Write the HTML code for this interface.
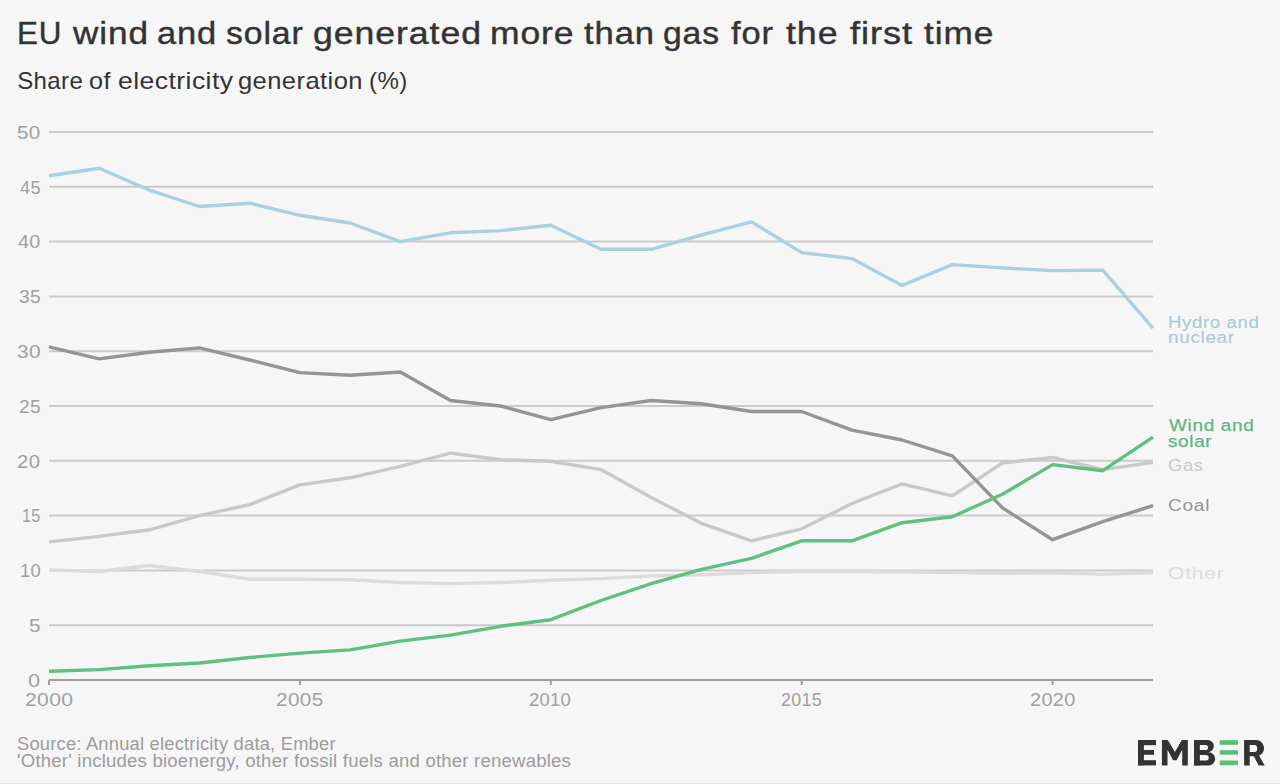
<!DOCTYPE html>
<html><head><meta charset="utf-8"><style>
html,body{margin:0;padding:0;}
body{width:1280px;height:784px;background:#f6f6f6;overflow:hidden;position:relative;font-family:"Liberation Sans",sans-serif;}
.t{position:absolute;white-space:nowrap;}
svg{position:absolute;left:0;top:0;}
</style></head><body>
<div style="position:absolute;left:0;top:783px;width:1280px;height:1px;background:#e4e4e4"></div>
<svg width="1280" height="784" viewBox="0 0 1280 784">
<g><line x1="49" x2="1153" y1="625.2" y2="625.2" stroke="#cbcbcb" stroke-width="2"/><line x1="49" x2="1153" y1="570.4" y2="570.4" stroke="#cbcbcb" stroke-width="2"/><line x1="49" x2="1153" y1="515.6" y2="515.6" stroke="#cbcbcb" stroke-width="2"/><line x1="49" x2="1153" y1="460.8" y2="460.8" stroke="#cbcbcb" stroke-width="2"/><line x1="49" x2="1153" y1="406.0" y2="406.0" stroke="#cbcbcb" stroke-width="2"/><line x1="49" x2="1153" y1="351.2" y2="351.2" stroke="#cbcbcb" stroke-width="2"/><line x1="49" x2="1153" y1="296.4" y2="296.4" stroke="#cbcbcb" stroke-width="2"/><line x1="49" x2="1153" y1="241.60000000000002" y2="241.60000000000002" stroke="#cbcbcb" stroke-width="2"/><line x1="49" x2="1153" y1="186.8" y2="186.8" stroke="#cbcbcb" stroke-width="2"/><line x1="49" x2="1153" y1="132.0" y2="132.0" stroke="#cbcbcb" stroke-width="2"/></g>
<line x1="49" x2="1153" y1="680" y2="680" stroke="#a0a0a0" stroke-width="2"/>
<line x1="49.0" x2="49.0" y1="680" y2="685" stroke="#a0a0a0" stroke-width="2"/><line x1="299.9090909090909" x2="299.9090909090909" y1="680" y2="685" stroke="#a0a0a0" stroke-width="2"/><line x1="550.8181818181818" x2="550.8181818181818" y1="680" y2="685" stroke="#a0a0a0" stroke-width="2"/><line x1="801.7272727272727" x2="801.7272727272727" y1="680" y2="685" stroke="#a0a0a0" stroke-width="2"/><line x1="1052.6363636363635" x2="1052.6363636363635" y1="680" y2="685" stroke="#a0a0a0" stroke-width="2"/>
<g fill="none" stroke-width="3.4" stroke-linejoin="round" stroke-linecap="butt">
<polyline points="49.0,569.9 99.2,571.5 149.4,565.5 199.5,571.5 249.7,579.2 299.9,579.2 350.1,579.7 400.3,582.5 450.5,583.6 500.6,582.5 550.8,580.3 601.0,578.6 651.2,575.9 701.4,574.8 751.5,572.6 801.7,571.5 851.9,571.5 902.1,572.0 952.3,572.6 1002.5,573.1 1052.6,572.6 1102.8,574.2 1153.0,572.6" stroke="#dcdcdc"/>
<polyline points="49.0,541.9 99.2,536.4 149.4,529.8 199.5,515.6 249.7,504.6 299.9,484.9 350.1,477.8 400.3,466.3 450.5,453.1 500.6,459.7 550.8,461.3 601.0,469.6 651.2,497.5 701.4,523.3 751.5,540.8 801.7,528.8 851.9,503.5 902.1,483.8 952.3,495.9 1002.5,463.0 1052.6,457.5 1102.8,469.6 1153.0,462.4" stroke="#c9c9c9"/>
<polyline points="49.0,346.8 99.2,358.9 149.4,352.3 199.5,347.9 249.7,360.0 299.9,372.6 350.1,375.3 400.3,372.0 450.5,400.5 500.6,406.0 550.8,419.7 601.0,407.6 651.2,400.5 701.4,403.8 751.5,411.5 801.7,411.5 851.9,430.1 902.1,440.0 952.3,455.9 1002.5,507.9 1052.6,539.7 1102.8,521.6 1153.0,505.7" stroke="#959595"/>
<polyline points="49.0,175.8 99.2,168.2 149.4,190.1 199.5,206.5 249.7,203.2 299.9,215.3 350.1,223.0 400.3,241.6 450.5,232.8 500.6,230.6 550.8,225.2 601.0,249.3 651.2,249.3 701.4,235.0 751.5,221.9 801.7,252.6 851.9,258.6 902.1,285.4 952.3,264.6 1002.5,267.9 1052.6,270.6 1102.8,270.1 1153.0,328.2" stroke="#a9d0e3"/>
<polyline points="49.0,671.2 99.2,669.6 149.4,665.8 199.5,663.0 249.7,657.5 299.9,653.1 350.1,649.9 400.3,641.1 450.5,635.1 500.6,626.3 550.8,619.7 601.0,600.5 651.2,583.6 701.4,569.3 751.5,558.3 801.7,540.8 851.9,540.8 902.1,522.7 952.3,516.7 1002.5,494.2 1052.6,464.6 1102.8,470.7 1153.0,437.2" stroke="#5ec084"/>
</g>
</svg>
<div class="t " style="left:17.28px;top:16.2px;font-size:31px;line-height:35.65px;color:#333;letter-spacing:0.8px;font-weight:normal;-webkit-text-stroke:0.4px #333;transform:scaleX(1.0125);transform-origin:0 0">EU</div>
<div class="t " style="left:72.7px;top:16.2px;font-size:31px;line-height:35.65px;color:#333;letter-spacing:0.8px;font-weight:normal;-webkit-text-stroke:0.4px #333;transform:scaleX(1.1338);transform-origin:0 0">wind</div>
<div class="t " style="left:156.69px;top:16.2px;font-size:31px;line-height:35.65px;color:#333;letter-spacing:0.8px;font-weight:normal;-webkit-text-stroke:0.4px #333;transform:scaleX(1.1118);transform-origin:0 0">and</div>
<div class="t " style="left:225.81px;top:16.2px;font-size:31px;line-height:35.65px;color:#333;letter-spacing:0.8px;font-weight:normal;-webkit-text-stroke:0.4px #333;transform:scaleX(1.0899);transform-origin:0 0">solar</div>
<div class="t " style="left:312.95px;top:16.2px;font-size:31px;line-height:35.65px;color:#333;letter-spacing:0.8px;font-weight:normal;-webkit-text-stroke:0.4px #333;transform:scaleX(1.1503);transform-origin:0 0">generated</div>
<div class="t " style="left:489.81px;top:16.2px;font-size:31px;line-height:35.65px;color:#333;letter-spacing:0.8px;font-weight:normal;-webkit-text-stroke:0.4px #333;transform:scaleX(1.1443);transform-origin:0 0">more</div>
<div class="t " style="left:584.0px;top:16.2px;font-size:31px;line-height:35.65px;color:#333;letter-spacing:0.8px;font-weight:normal;-webkit-text-stroke:0.4px #333;transform:scaleX(1.1164);transform-origin:0 0">than</div>
<div class="t " style="left:662.81px;top:16.2px;font-size:31px;line-height:35.65px;color:#333;letter-spacing:0.8px;font-weight:normal;-webkit-text-stroke:0.4px #333;transform:scaleX(1.086);transform-origin:0 0">gas</div>
<div class="t " style="left:731.4px;top:16.2px;font-size:31px;line-height:35.65px;color:#333;letter-spacing:0.8px;font-weight:normal;-webkit-text-stroke:0.4px #333;transform:scaleX(1.1105);transform-origin:0 0">for</div>
<div class="t " style="left:786.2px;top:16.2px;font-size:31px;line-height:35.65px;color:#333;letter-spacing:0.8px;font-weight:normal;-webkit-text-stroke:0.4px #333;transform:scaleX(1.1523);transform-origin:0 0">the</div>
<div class="t " style="left:849.5px;top:16.2px;font-size:31px;line-height:35.65px;color:#333;letter-spacing:0.8px;font-weight:normal;-webkit-text-stroke:0.4px #333;transform:scaleX(1.1679);transform-origin:0 0">first</div>
<div class="t " style="left:924.0px;top:16.2px;font-size:31px;line-height:35.65px;color:#333;letter-spacing:0.8px;font-weight:normal;-webkit-text-stroke:0.4px #333;transform:scaleX(1.135);transform-origin:0 0">time</div>
<div class="t " style="left:17.2px;top:66.6px;font-size:24px;line-height:27.60px;color:#333;letter-spacing:0.4px;font-weight:normal;transform:scaleX(1.0);transform-origin:0 0">Share</div>
<div class="t " style="left:88.85px;top:66.6px;font-size:24px;line-height:27.60px;color:#333;letter-spacing:0.4px;font-weight:normal;transform:scaleX(1.05);transform-origin:0 0">of</div>
<div class="t " style="left:117.99px;top:66.6px;font-size:24px;line-height:27.60px;color:#333;letter-spacing:0.4px;font-weight:normal;transform:scaleX(1.1058);transform-origin:0 0">electricity</div>
<div class="t " style="left:238.44px;top:66.6px;font-size:24px;line-height:27.60px;color:#333;letter-spacing:0.4px;font-weight:normal;transform:scaleX(1.0635);transform-origin:0 0">generation</div>
<div class="t " style="left:369.0px;top:66.6px;font-size:24px;line-height:27.60px;color:#333;letter-spacing:0.4px;font-weight:normal;transform:scaleX(1.0028);transform-origin:0 0">(%)</div>
<div class="t " style="left:1167.83px;top:313.3px;font-size:17.3px;line-height:19.89px;color:#a6cbdc;letter-spacing:0.6px;font-weight:normal;-webkit-text-stroke:0.15px #a6cbdc;transform:scaleX(1.0735);transform-origin:0 0">Hydro and</div>
<div class="t " style="left:1167.8px;top:328.3px;font-size:17.3px;line-height:19.89px;color:#a6cbdc;letter-spacing:0.6px;font-weight:normal;-webkit-text-stroke:0.15px #a6cbdc;transform:scaleX(1.0966);transform-origin:0 0">nuclear</div>
<div class="t " style="left:1168.7px;top:416.0px;font-size:16.8px;line-height:19.32px;color:#5fb582;letter-spacing:0.6px;font-weight:normal;-webkit-text-stroke:0.25px #5fb582;transform:scaleX(1.1284);transform-origin:0 0">Wind and</div>
<div class="t " style="left:1167.58px;top:432.0px;font-size:16.8px;line-height:19.32px;color:#5fb582;letter-spacing:0.6px;font-weight:normal;-webkit-text-stroke:0.25px #5fb582;transform:scaleX(1.1237);transform-origin:0 0">solar</div>
<div class="t " style="left:1167.94px;top:455.7px;font-size:17.3px;line-height:19.89px;color:#c9c9c9;letter-spacing:0.6px;font-weight:normal;transform:scaleX(1.0645);transform-origin:0 0">Gas</div>
<div class="t " style="left:1167.89px;top:496.0px;font-size:17.3px;line-height:19.89px;color:#959595;letter-spacing:0.6px;font-weight:normal;transform:scaleX(1.1086);transform-origin:0 0">Coal</div>
<div class="t " style="left:1167.53px;top:563.5px;font-size:17.3px;line-height:19.89px;color:#dcdcdc;letter-spacing:0.6px;font-weight:normal;transform:scaleX(1.2216);transform-origin:0 0">Other</div>
<div class="t " style="left:16.95px;top:733.8px;font-size:17.5px;line-height:20.12px;color:#9c9c9c;letter-spacing:0.2px;font-weight:normal;transform:scaleX(1.0475);transform-origin:0 0">Source: Annual electricity data, Ember</div>
<div class="t " style="left:16.94px;top:750.8px;font-size:17.5px;line-height:20.12px;color:#9c9c9c;letter-spacing:0.2px;font-weight:normal;transform:scaleX(1.0601);transform-origin:0 0">'Other' includes bioenergy, other fossil fuels and other renewables</div>
<div class="t " style="left:27.76px;top:670.8px;font-size:17.5px;line-height:20.12px;color:#a0a0a0;letter-spacing:0.3px;font-weight:normal;transform:scaleX(1.2375);transform-origin:0 0">0</div>
<div class="t " style="left:28.81px;top:616.0px;font-size:17.5px;line-height:20.12px;color:#a0a0a0;letter-spacing:0.3px;font-weight:normal;transform:scaleX(1.1875);transform-origin:0 0">5</div>
<div class="t " style="left:19.66px;top:561.1999999999999px;font-size:17.5px;line-height:20.12px;color:#a0a0a0;letter-spacing:0.3px;font-weight:normal;transform:scaleX(1.0444);transform-origin:0 0">10</div>
<div class="t " style="left:21.98px;top:506.40000000000003px;font-size:17.5px;line-height:20.12px;color:#a0a0a0;letter-spacing:0.3px;font-weight:normal;transform:scaleX(0.9222);transform-origin:0 0">15</div>
<div class="t " style="left:17.44px;top:451.6px;font-size:17.5px;line-height:20.12px;color:#a0a0a0;letter-spacing:0.3px;font-weight:normal;transform:scaleX(1.1611);transform-origin:0 0">20</div>
<div class="t " style="left:18.71px;top:396.8px;font-size:17.5px;line-height:20.12px;color:#a0a0a0;letter-spacing:0.3px;font-weight:normal;transform:scaleX(1.0944);transform-origin:0 0">25</div>
<div class="t " style="left:16.81px;top:342.0px;font-size:17.5px;line-height:20.12px;color:#a0a0a0;letter-spacing:0.3px;font-weight:normal;transform:scaleX(1.1944);transform-origin:0 0">30</div>
<div class="t " style="left:18.71px;top:287.2px;font-size:17.5px;line-height:20.12px;color:#a0a0a0;letter-spacing:0.3px;font-weight:normal;transform:scaleX(1.0944);transform-origin:0 0">35</div>
<div class="t " style="left:18.0px;top:232.40000000000003px;font-size:17.5px;line-height:20.12px;color:#a0a0a0;letter-spacing:0.3px;font-weight:normal;transform:scaleX(1.1316);transform-origin:0 0">40</div>
<div class="t " style="left:19.8px;top:177.60000000000002px;font-size:17.5px;line-height:20.12px;color:#a0a0a0;letter-spacing:0.3px;font-weight:normal;transform:scaleX(1.0368);transform-origin:0 0">45</div>
<div class="t " style="left:16.82px;top:122.8px;font-size:17.5px;line-height:20.12px;color:#a0a0a0;letter-spacing:0.3px;font-weight:normal;transform:scaleX(1.1778);transform-origin:0 0">50</div>
<div class="t " style="left:24.59px;top:690px;font-size:17.5px;line-height:20.12px;color:#a0a0a0;letter-spacing:0.3px;font-weight:normal;transform:scaleX(1.2079);transform-origin:0 0">2000</div>
<div class="t " style="left:276.32px;top:690px;font-size:17.5px;line-height:20.12px;color:#a0a0a0;letter-spacing:0.3px;font-weight:normal;transform:scaleX(1.1842);transform-origin:0 0">2005</div>
<div class="t " style="left:529.45px;top:690px;font-size:17.5px;line-height:20.12px;color:#a0a0a0;letter-spacing:0.3px;font-weight:normal;transform:scaleX(1.05);transform-origin:0 0">2010</div>
<div class="t " style="left:781.18px;top:690px;font-size:17.5px;line-height:20.12px;color:#a0a0a0;letter-spacing:0.3px;font-weight:normal;transform:scaleX(1.0237);transform-origin:0 0">2015</div>
<div class="t " style="left:1029.67px;top:690px;font-size:17.5px;line-height:20.12px;color:#a0a0a0;letter-spacing:0.3px;font-weight:normal;transform:scaleX(1.1342);transform-origin:0 0">2020</div>
<svg width="130" height="28" viewBox="0 0 130 28" style="left:1138px;top:740px">
<g fill="#333333">
<rect x="0" y="0" width="5.9" height="25.4"/><rect x="0" y="0" width="18" height="5.2"/><rect x="0" y="10" width="16" height="4.8"/><rect x="0" y="20.2" width="18" height="5.2"/>
<polygon points="23.9,25.5 23.9,0 29.8,0 36.9,12 43.8,0 49.8,0 49.8,25.5 44.2,25.5 44.2,9.7 38.6,20.3 35,20.3 29.5,9.7 29.5,25.5"/>
<path d="M56.1,0 H69.6 A6.3,6.1 0 0 1 69.6,12.2 H56.1 Z"/>
<path d="M56.1,12.2 H70.7 A6.5,6.6 0 0 1 70.7,25.4 H56.1 Z"/>
<rect x="56.1" y="0" width="5.9" height="25.4"/><rect x="56.1" y="10.8" width="14.5" height="2.8"/>
<path d="M106.1,0 H118.5 A7.5,8.15 0 0 1 121.1,15.8 L126.7,25.4 H120.6 L115.8,16.3 H111.7 V25.4 H106.1 Z M111.7,5.1 H116.6 A2.6,3.5 0 0 1 116.6,12.1 H111.7 Z" fill-rule="evenodd"/>
</g>
<g fill="#f6f6f6"><path d="M61.9,4.9 H67.5 A2.55,2.55 0 0 1 67.5,10 H61.9 Z"/><path d="M61.9,15.1 H68.1 A2.65,2.65 0 0 1 68.1,20.4 H61.9 Z"/></g>
<g fill="#5abf74"><rect x="81.7" y="0.2" width="18.3" height="4.6"/><rect x="81.7" y="10.2" width="18.3" height="4.5"/><rect x="81.7" y="20.5" width="18.3" height="4.7"/></g>
</svg>
</body></html>
